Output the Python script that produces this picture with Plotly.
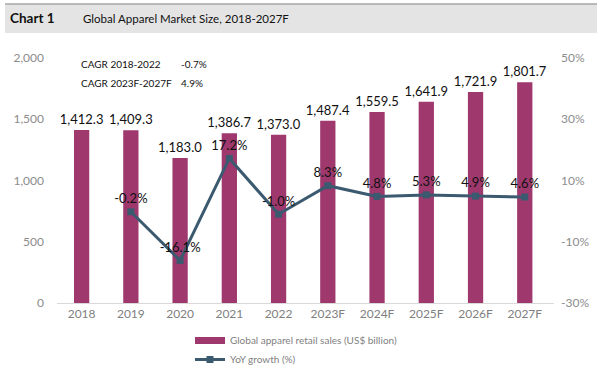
import plotly.graph_objects as go

years = ["2018", "2019", "2020", "2021", "2022", "2023F", "2024F", "2025F", "2026F", "2027F"]
sales = [1412.3, 1409.3, 1183.0, 1386.7, 1373.0, 1487.4, 1559.5, 1641.9, 1721.9, 1801.7]
growth_years = ["2019", "2020", "2021", "2022", "2023F", "2024F", "2025F", "2026F", "2027F"]
growth = [-0.2, -16.1, 17.2, -1.0, 8.3, 4.8, 5.3, 4.9, 4.6]
cagr_labels = ["CAGR 2018-2022", "CAGR 2023F-2027F"]
cagr_values = ["-0.7%", "4.9%"]
right_ticks = [-30, -10, 10, 30, 50]

FONT = "Lato"
BAR_COLOR = "#9e386d"
LINE_COLOR = "#3c5a6f"
W, H = 602, 375
L, R, T, B = 57, 48, 58, 72
PW, PH = W - L - R, H - T - B

def px(x):
    return (x - L) / PW

def py(y):
    return (H - B - y) / PH

fig = go.Figure()
fig.add_trace(go.Bar(
    x=years, y=sales, name="Global apparel retail sales (US$ billion)",
    marker=dict(color=BAR_COLOR, line=dict(width=0)),
    width=0.31, showlegend=False,
    text=[f"{v:,.1f}" for v in sales], textposition="outside",
    constraintext="none",
    textfont=dict(family=FONT, size=13, color="#111111"),
    cliponaxis=False,
))
# legend-only entry drawn as a wide bar swatch
fig.add_trace(go.Scatter(
    x=[None], y=[None], name="Global apparel retail sales (US$ billion)",
    mode="lines", line=dict(color=BAR_COLOR, width=7), legendrank=1,
))
fig.add_trace(go.Scatter(
    x=growth_years, y=growth, yaxis="y2", name="YoY growth (%)",
    mode="lines+markers+text", legendrank=2,
    line=dict(color=LINE_COLOR, width=3),
    marker=dict(symbol="square", size=7, color=LINE_COLOR),
    text=[f"{v:.1f}%" for v in growth], textposition="top center",
    textfont=dict(family=FONT, size=13, color="#111111"),
    cliponaxis=False,
))

shapes = [
    dict(type="rect", xref="paper", yref="paper",
         x0=px(5), x1=px(597), y0=py(33), y1=py(4),
         fillcolor="#e4e4e4", line=dict(width=0), layer="below"),
    dict(type="line", xref="paper", yref="paper",
         x0=px(5), x1=px(597), y0=py(4), y1=py(4),
         line=dict(color="#a6a6a6", width=1.5)),
]

annotations = [
    dict(text="<b>Chart 1</b>", xref="paper", yref="paper", x=px(8), y=py(18),
         xanchor="left", yanchor="middle", showarrow=False,
         font=dict(family=FONT, size=13.5, color="#111111")),
    dict(text="Global Apparel Market Size, 2018-2027F", xref="paper", yref="paper",
         x=px(81), y=py(18), xanchor="left", yanchor="middle", showarrow=False,
         font=dict(family=FONT, size=11.5, color="#111111")),
]
for i, (lab, val) in enumerate(zip(cagr_labels, cagr_values)):
    yy = 64 + i * 19
    annotations.append(dict(text=lab, xref="paper", yref="paper", x=px(79), y=py(yy),
                            xanchor="left", yanchor="middle", showarrow=False,
                            font=dict(family=FONT, size=10, color="#111111")))
    annotations.append(dict(text=val, xref="paper", yref="paper", x=px(179), y=py(yy),
                            xanchor="left", yanchor="middle", showarrow=False,
                            font=dict(family=FONT, size=10, color="#111111")))

fig.update_layout(
    width=W, height=H,
    margin=dict(l=L, r=R, t=T, b=B, autoexpand=False),
    paper_bgcolor="white", plot_bgcolor="white",
    showlegend=True,
    legend=dict(x=px(190), y=py(326), xanchor="left", yanchor="top",
                orientation="v", font=dict(family=FONT, size=10, color="#7f7f7f"),
                bgcolor="rgba(0,0,0,0)", itemwidth=30, tracegroupgap=0),
    xaxis=dict(type="category", categoryorder="array", categoryarray=years,
               showline=True, linecolor="#d9d9d9", linewidth=1, ticks="",
               showgrid=False, tickfont=dict(family=FONT, size=12, color="#808080")),
    yaxis=dict(range=[0, 2000], dtick=500, tickformat=",", showgrid=False,
               zeroline=False, ticks="", ticklabelstandoff=12,
               tickfont=dict(family=FONT, size=12, color="#8c8c8c")),
    yaxis2=dict(range=[-30, 50], tickmode="array", tickvals=right_ticks,
                ticktext=[f"{v}%" for v in right_ticks], overlaying="y", side="right",
                showgrid=False, zeroline=False, ticks="", ticklabelstandoff=6,
                tickfont=dict(family=FONT, size=12, color="#8c8c8c")),
    shapes=shapes, annotations=annotations,
)

fig.write_html("out.html", config={"displayModeBar": False},
               post_script="document.body.style.margin='0';")
